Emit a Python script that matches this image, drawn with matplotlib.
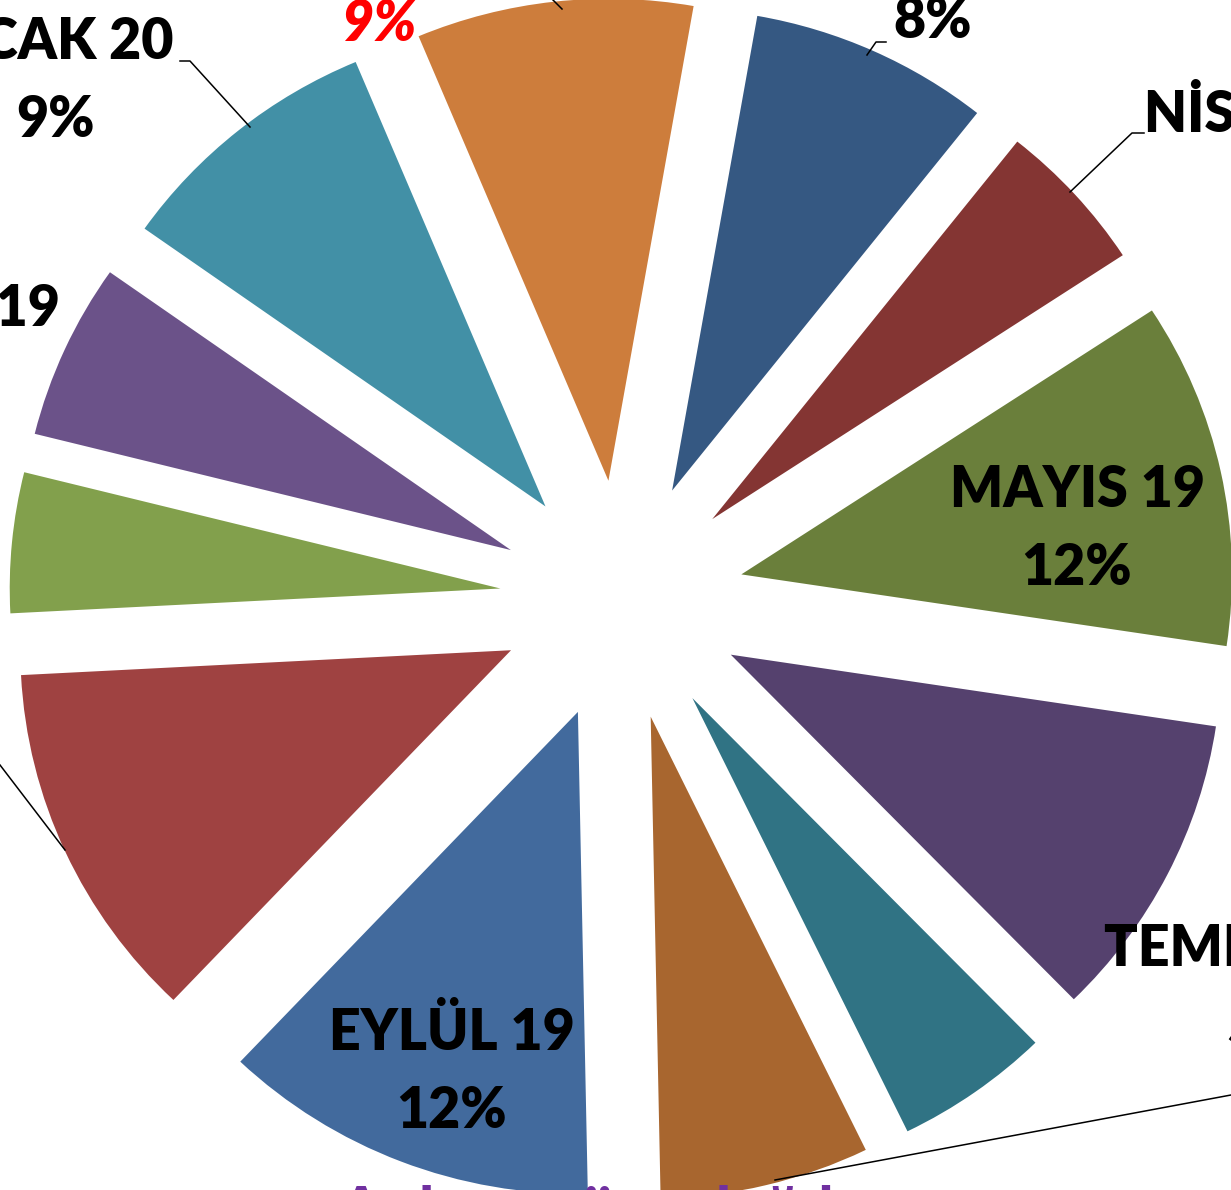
import matplotlib
matplotlib.use("Agg")
import matplotlib.pyplot as plt

# monthly shares, clockwise from just right of 12 o'clock
months = ["MART 19", "NİSAN 19", "MAYIS 19", "HAZİRAN 19", "TEMMUZ 19", "AĞUSTOS 19",
          "EYLÜL 19", "EKİM 19", "KASIM 19", "ARALIK 19", "OCAK 20", "ŞUBAT 20"]
shares = [7.9, 5.1, 11.6, 10.3, 5.1, 6.9, 12.4, 12.1, 4.7, 5.9, 8.9, 9.1]
title = "Aylara göre dağılım"

colors = ["#355882", "#843533", "#6A7F3B", "#55416E", "#307384", "#A8662F",
          "#426A9D", "#9F4241", "#82A04C", "#6B5289", "#4290A6", "#CD7D3C"]

W, H = 1231, 1190
CX, CY = 622, 600
SX = 1.018  # the original pie is a little wider than tall

fig = plt.figure(figsize=(W / 100, H / 100), dpi=100)
ax = fig.add_axes([0, 0, 1, 1])

# explode is in data units here (pixels), not a fraction of the radius
ax.pie(shares, colors=colors, startangle=80, counterclock=False,
       explode=[120] * len(shares), center=(CX, H - CY), radius=482,
       wedgeprops=dict(linewidth=0), frame=True)
ax.set_xlim(CX - CX / SX, CX + (W - CX) / SX)
ax.set_ylim(0, H)
ax.set_aspect("auto")
ax.axis("off")

# overlay in plain picture pixels (y down) for labels and leaders
ov = fig.add_axes([0, 0, 1, 1])
ov.set_xlim(0, W)
ov.set_ylim(H, 0)
ov.axis("off")

font = ["Lato", "DejaVu Sans"]
fs = 40

def label(i, x, y, color="black", style="normal"):
    # x, y: top of the first text line in picture pixels
    pct = round(shares[i])
    ov.text(x, y, f"{months[i]}\n{pct}%", ha="center", va="top",
            fontsize=fs, fontweight="heavy", color=color, style=style,
            family=font, linespacing=1.6)

label(0, 933, -83)
label(1, 1270, 88)
label(2, 1077, 464)
label(3, 1470, 640)
label(4, 1266, 923)
label(5, 1420, 1050)
label(6, 452, 1006)
label(7, -160, 700)
label(8, -200, 520)
label(9, -78, 283)
label(10, 55, 16)
label(11, 379, -80, color="#FF0000", style="italic")

# leader lines (picture pixels)
leaders = [
    [(867, 55), (876, 42), (886, 42)],
    [(1070, 192), (1132, 133), (1144, 133)],
    [(250, 127), (190, 61), (180, 61)],
    [(553, 0), (562, 9)],
    [(775, 1180), (1231, 1095)],
    [(65, 850), (0, 765)],
]
for pts in leaders:
    ov.plot([p[0] for p in pts], [p[1] for p in pts], color="black", linewidth=1.1)

ov.text(622, 1185, title, ha="center", va="top", fontsize=48,
        fontweight="bold", color="#7030A0", family=font)

fig.savefig("out.png", dpi=100)
